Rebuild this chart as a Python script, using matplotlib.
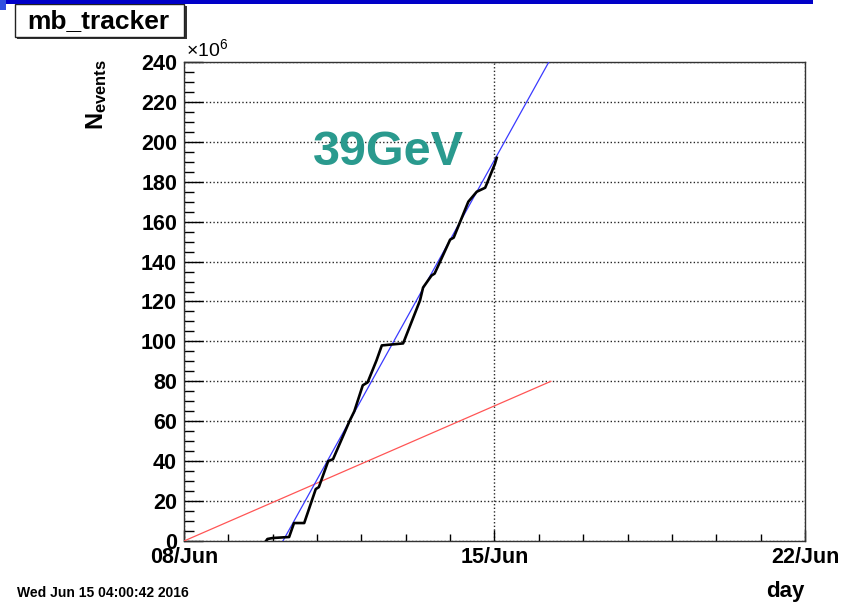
import matplotlib.pyplot as plt
from matplotlib.patches import Rectangle
from matplotlib.ticker import MultipleLocator, FixedLocator

plt.rcParams.update(
    {
        "font.family": ["Liberation Sans", "DejaVu Sans"],
        "mathtext.fontset": "custom",
        "mathtext.rm": "Liberation Sans",
        "mathtext.bf": "Liberation Sans:bold",
        "mathtext.it": "Liberation Sans:italic",
    }
)

# days since 08/Jun, events in units of 10^6
mb_days = [1.85, 1.88, 2.00, 2.37, 2.48, 2.71, 2.97, 3.04, 3.25, 3.36, 3.73, 3.84,
           4.03, 4.14, 4.34, 4.46, 4.94, 5.32, 5.39, 5.58, 5.65, 6.00, 6.08, 6.41,
           6.60, 6.79, 7.01, 7.05]
mb_events = [0.0, 1.0, 1.5, 2.0, 9.0, 9.0, 26.0, 27.0, 40.0, 41.0, 60.0, 65.0,
             78.0, 79.5, 90.5, 98.0, 99.0, 120.5, 127.0, 133.0, 134.0, 151.0, 152.0, 170.0,
             175.0, 177.0, 189.0, 192.0]

fit_days = [2.23, 8.25]
fit_events = [0.0, 241.0]

goal_days = [0.0, 8.27]
goal_events = [0.0, 80.0]

xtick_pos = [0, 7, 14]
xtick_labels = ["08/Jun", "15/Jun", "22/Jun"]
ytick_pos = list(range(0, 241, 20))

W, H = 853, 602
fig = plt.figure(figsize=(W / 100, H / 100), dpi=100)
ax = fig.add_axes([184 / W, 1 - 541 / H, 621 / W, 479 / H])

ax.plot(goal_days, goal_events, color="#ff5555", lw=0.9, zorder=3)
ax.plot(fit_days, fit_events, color="#3a3aff", lw=0.9, zorder=4)
ax.plot(mb_days, mb_events, color="black", lw=1.9, zorder=5)

ax.set_xlim(0, 14)
ax.set_ylim(0, 240)

ax.xaxis.set_major_locator(FixedLocator(xtick_pos))
ax.set_xticklabels(xtick_labels)
ax.xaxis.set_minor_locator(MultipleLocator(1))
ax.yaxis.set_major_locator(FixedLocator(ytick_pos))
ax.yaxis.set_minor_locator(MultipleLocator(5))

ax.tick_params(axis="x", which="major", direction="in", length=8, width=1,
               labelsize=15.5, pad=4)
ax.tick_params(axis="x", which="minor", direction="in", length=5, width=1)
ax.tick_params(axis="y", which="major", direction="in", length=13.5, width=1,
               labelsize=15.5, pad=5)
ax.tick_params(axis="y", which="minor", direction="in", length=7, width=1)
for lab in ax.get_xticklabels() + ax.get_yticklabels():
    lab.set_fontweight("bold")

ax.grid(True, which="major", color="black", linestyle=(0, (1, 1.6)), lw=1, alpha=0.85)
for s in ax.spines.values():
    s.set_color("#333333")
    s.set_linewidth(1)

ax.text((313 - 184) / 621, (541 - 165) / 479, "39GeV", transform=ax.transAxes,
        fontsize=35, fontweight="bold", color="#2a9a8e", va="baseline", zorder=6)

# axis titles
fig.text(186 / W, 1 - 56 / H, r"$\times10^{6}$", fontsize=14, ha="left", va="baseline")
fig.text(97 / W, 1 - 59 / H, r"$\mathbf{N}_{\mathbf{events}}$", fontsize=17,
         rotation=90, ha="center", va="top")
fig.text(805 / W, 1 - 597 / H, "day", fontsize=16, fontweight="bold",
         ha="right", va="baseline")
fig.text(17 / W, 1 - 597 / H, "Wed Jun 15 04:00:42 2016", fontsize=10,
         fontweight="bold", ha="left", va="baseline")

# title box with shadow
fig.patches.append(Rectangle((17 / W, 1 - 39 / H), 170 / W, 33 / H,
                             transform=fig.transFigure, facecolor="#333333",
                             edgecolor="none"))
fig.patches.append(Rectangle((15 / W, 1 - 37 / H), 169 / W, 33 / H,
                             transform=fig.transFigure, facecolor="white",
                             edgecolor="#222222", lw=1))
fig.text(98 / W, 1 - 21 / H, "mb_tracker", fontsize=19, fontweight="bold",
         ha="center", va="center")

# slide border at top
fig.patches.append(Rectangle((0, 1 - 4 / H), 813 / W, 4 / H,
                             transform=fig.transFigure, facecolor="#0000c8",
                             edgecolor="none"))
fig.patches.append(Rectangle((0, 1 - 10 / H), 6 / W, 10 / H,
                             transform=fig.transFigure, facecolor="#3050e0",
                             edgecolor="none"))

fig.savefig("out.png", dpi=100)
